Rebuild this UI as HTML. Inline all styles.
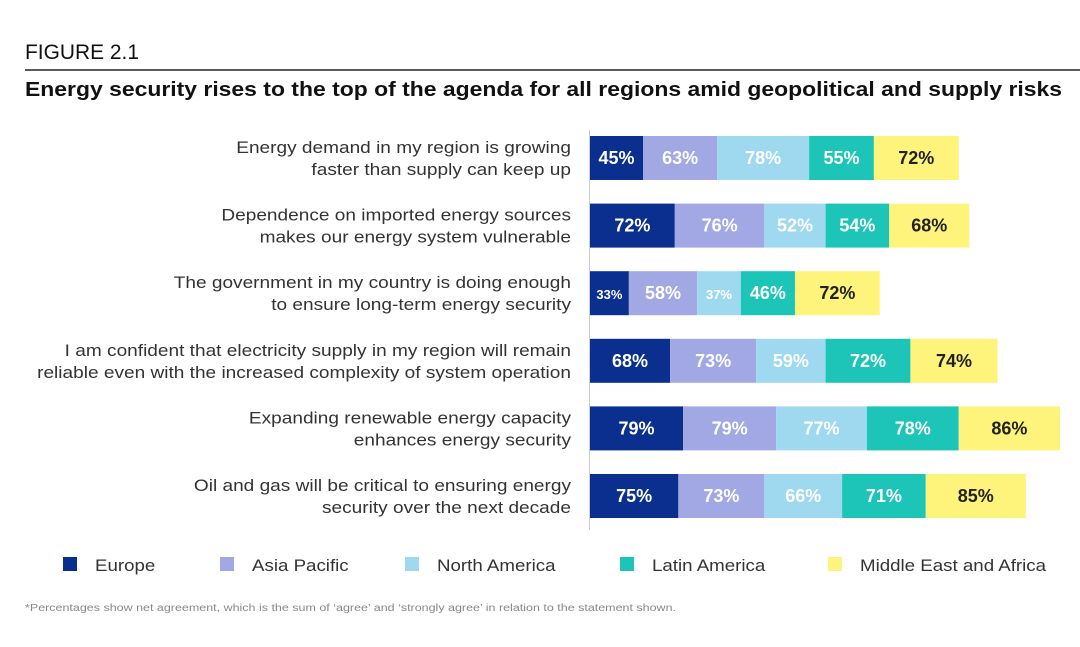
<!DOCTYPE html>
<html><head><meta charset="utf-8"><style>
body{margin:0;background:#fff;width:1080px;height:647px;overflow:hidden;font-family:"Liberation Sans",sans-serif}
svg{position:absolute;left:0;top:0}
</style></head><body>
<svg id="c" width="1080" height="647">
<text x="25" y="59" font-size="21" fill="#111" textLength="114" lengthAdjust="spacingAndGlyphs">FIGURE 2.1</text>
<line x1="25" y1="70" x2="1080" y2="70" stroke="#222" stroke-width="1.5"/>
<text x="25" y="96" font-size="20" font-weight="bold" fill="#111" textLength="1037" lengthAdjust="spacingAndGlyphs">Energy security rises to the top of the agenda for all regions amid geopolitical and supply risks</text>
<line x1="589.5" y1="130" x2="589.5" y2="530" stroke="#ccc" stroke-width="1"/>
<text x="25" y="611" font-size="10" fill="#888" textLength="651" lengthAdjust="spacingAndGlyphs">*Percentages show net agreement, which is the sum of ‘agree’ and ‘strongly agree’ in relation to the statement shown.</text>
</svg>
<script>
const categories=[["Energy demand in my region is growing","faster than supply can keep up"],["Dependence on imported energy sources","makes our energy system vulnerable"],["The government in my country is doing enough","to ensure long-term energy security"],["I am confident that electricity supply in my region will remain","reliable even with the increased complexity of system operation"],["Expanding renewable energy capacity","enhances energy security"],["Oil and gas will be critical to ensuring energy","security over the next decade"]];
const seriesNames=["Europe","Asia Pacific","North America","Latin America","Middle East and Africa"];
const europe=[45,72,33,68,79,75];
const asiaPacific=[63,76,58,73,79,73];
const northAmerica=[78,52,37,59,77,66];
const latinAmerica=[55,54,46,72,78,71];
const mea=[72,68,72,74,86,85];
const series=[europe,asiaPacific,northAmerica,latinAmerica,mea];
const colors=["#0b2f8e","#a1a8e3","#9ed9ef","#1cc5b8","#fef37b"];
const textCol=["#fff","#fff","#fff","#fff","#222"];
const svg=document.getElementById('c');const NS="http://www.w3.org/2000/svg";
const x0=590,k=1.178,rowY=i=>136+i*67.6,bh=44;
const sx=v=>v*k;
function mk(t,a){const e=document.createElementNS(NS,t);for(const p in a)e.setAttribute(p,a[p]);svg.appendChild(e);return e;}
function stretch(t,f){const w=t.getComputedTextLength();t.setAttribute('textLength',w*f);t.setAttribute('lengthAdjust','spacingAndGlyphs');}
categories.forEach((c,i)=>{
  const y=rowY(i);
  c.forEach((l,j)=>{const t=mk('text',{x:571,y:y+17+j*22,'font-size':16.5,fill:'#333','text-anchor':'end'});t.textContent=l;
  
  
  stretch(t,1.155);});
  let x=x0;
  series.forEach((s,si)=>{
    const w=sx(s[i]);
    const r=mk('rect',{x:x,y:y,width:w,height:bh,fill:colors[si]});
    
    
    const fs=w<45?13:18;
    const t=mk('text',{x:x+w/2,y:y+bh/2+6,'font-size':fs,'font-weight':'bold',fill:textCol[si],'text-anchor':'middle'});
    t.textContent=s[i]+'%';
    
    
    x+=w;
  });
});
const lx=[63,220,405,620,828];
seriesNames.forEach((n,i)=>{
  const r=mk('rect',{x:lx[i],y:557,width:14,height:14,fill:colors[i]});
  
  
  const t=mk('text',{x:lx[i]+32,y:571,'font-size':17,fill:'#333'});t.textContent=n;
  
  
  stretch(t,1.1);
});
</script>
</body></html>
